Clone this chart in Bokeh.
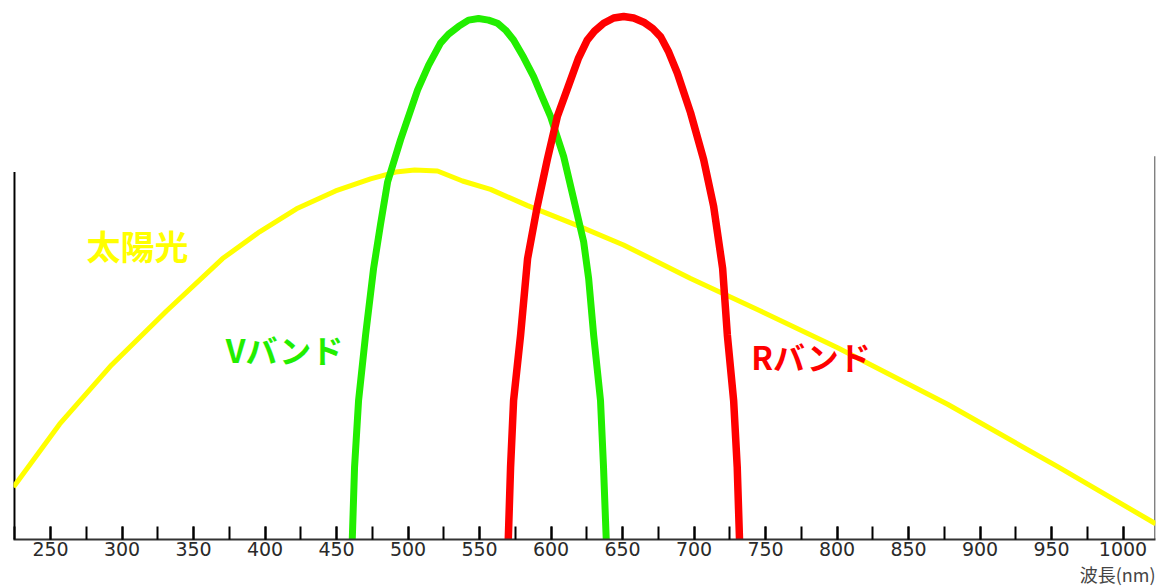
from bokeh.plotting import figure
from bokeh.models import Range1d, SingleIntervalTicker, Title
from bokeh.core.properties import value
from bokeh.embed import file_html
from bokeh.resources import INLINE

# Sunlight spectrum (relative intensity)
sun_nm = [224.1, 256.3, 292.7, 331.1, 370.3, 396.2, 422.0, 449.3, 473.8, 491.3, 504.6,
          520.6, 538.1, 557.7, 583.6, 618.6, 650.7, 697.6, 746.5, 800.4, 877.3, 954.9, 1022.8]
sun_val = [10.0, 22.0, 33.3, 43.6, 53.6, 58.7, 63.1, 66.5, 68.8, 70.1, 70.5,
           70.3, 68.4, 66.8, 63.7, 59.9, 56.2, 49.8, 43.6, 36.6, 25.8, 13.8, 3.0]

# V band response
v_nm = [461.0, 462.6, 465.4, 470.3, 475.9, 480.8, 485.7, 494.8, 506.7, 514.4, 522.7,
        528.3, 535.3, 542.3, 549.3, 556.3, 562.6, 568.2, 573.8, 580.8, 587.8, 593.4,
        599.7, 608.8, 615.8, 622.8, 626.3, 629.8, 634.6, 636.7, 638.6]
v_val = [0.0, 13.8, 26.5, 39.0, 51.7, 60.2, 68.2, 76.3, 85.8, 90.5, 94.7,
         96.4, 97.9, 99.1, 99.4, 99.1, 98.5, 97.2, 95.3, 92.0, 88.3, 84.7,
         80.7, 73.1, 65.0, 56.8, 49.8, 39.0, 26.5, 13.8, 0.0]

# R band response
r_nm = [570.1, 571.7, 573.8, 578.7, 583.6, 590.4, 597.4, 604.4, 613.7, 619.3, 625.3,
        630.4, 636.8, 643.8, 650.8, 657.8, 664.8, 671.1, 676.7, 682.3, 688.3, 697.6,
        706.7, 713.7, 720.0, 723.3, 727.7, 730.2, 731.8]
r_val = [0.0, 13.8, 26.5, 39.0, 53.6, 63.6, 72.5, 80.7, 87.7, 91.9, 95.3,
         97.0, 98.5, 99.5, 99.8, 99.5, 98.7, 97.5, 95.9, 93.0, 89.0, 81.4,
         72.5, 63.6, 51.7, 39.0, 26.5, 13.8, 0.0]

label_text = ["太陽光", "Vバンド", "Rバンド"]
label_nm = [310.8, 413.0, 781.2]
label_val = [56.1, 36.4, 35.1]
label_color = ["#ffff00", "#22ee00", "#ff0000"]
label_size = ["34px", "32px", "32px"]

axis_title = "波長(nm)"

X0, X1 = 224.1, 1022.7
Y1 = 102.84

p = figure(width=1156, height=586,
           x_range=Range1d(X0, X1), y_range=Range1d(0, Y1),
           output_backend="svg", toolbar_location=None,
           y_axis_location=None,
           min_border_left=13, min_border_right=1,
           min_border_top=0, min_border_bottom=43)
p.outline_line_color = None
p.grid.grid_line_color = None
p.background_fill_color = "white"
p.border_fill_color = "white"

# frame side lines
p.segment(x0=[X0 + 0.5], y0=[0], x1=[X0 + 0.5], y1=[70.1], line_color="black", line_width=2.5)
p.segment(x0=[X1 - 0.4], y0=[0], x1=[X1 - 0.4], y1=[73.1], line_color="#666666", line_width=1.5)

p.line(sun_nm, sun_val, line_color="#ffff00", line_width=5, line_join="round")
p.line(v_nm, v_val, line_color="#22ee00", line_width=7, line_join="round")
p.line(r_nm, r_val, line_color="#ff0000", line_width=7.5, line_join="round")

p.text(x=label_nm, y=label_val, text=label_text, text_color=label_color,
       text_font=value("Noto Sans CJK JP"), text_font_style="bold",
       text_font_size=label_size, text_align="center", text_baseline="middle")

ax = p.xaxis[0]
ax.ticker = SingleIntervalTicker(interval=50, num_minor_ticks=2)
ax.axis_line_color = "#333333"
ax.axis_line_width = 2
ax.major_tick_in = 13
ax.major_tick_out = 0
ax.minor_tick_in = 13
ax.minor_tick_out = 0
ax.major_tick_line_color = "black"
ax.major_tick_line_width = 2
ax.minor_tick_line_color = "black"
ax.minor_tick_line_width = 2
ax.major_label_text_font = "DejaVu Sans"
ax.major_label_text_font_size = "19px"
ax.major_label_text_color = "#2a2a2a"
ax.major_label_standoff = 2

p.add_layout(Title(text=axis_title, align="right", text_font="Noto Sans CJK JP",
                   text_font_size="18px", text_font_style="normal",
                   text_color="#444444", standoff=0), "below")

open("out.html", "w").write(file_html(p, INLINE))
